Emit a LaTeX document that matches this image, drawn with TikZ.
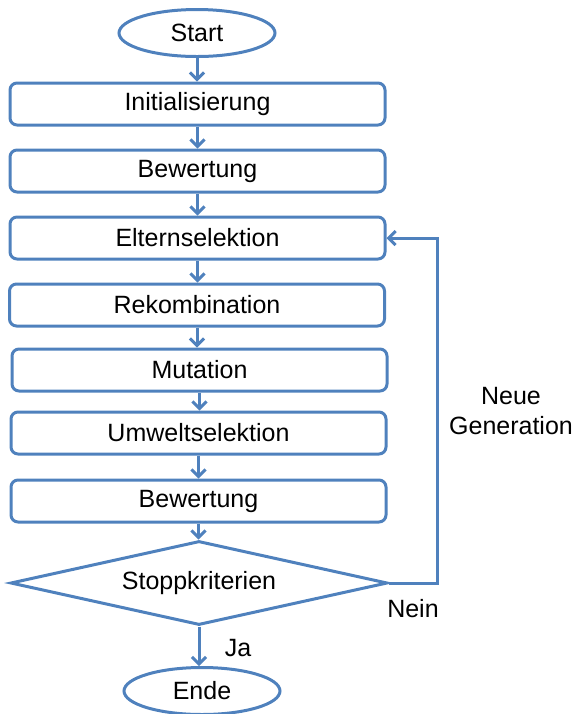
\documentclass[tikz,border=0pt]{standalone}
\usepackage{fontspec}
\setmainfont{Liberation Sans}
\usetikzlibrary{positioning}
\usetikzlibrary{shapes.geometric}
\usetikzlibrary{arrows.meta}
\definecolor{flowblue}{HTML}{4F81BD}

\begin{document}
\begin{tikzpicture}[x=0.5pt, y=-0.5pt,
                    every node/.style={font=\fontsize{12.5}{15}\selectfont},
                    stepbox/.style={draw=flowblue, line width=1.5pt, rounded corners=3.5pt,
                                    minimum width=187.5pt, minimum height=21pt, inner sep=0pt},
                    terminal/.style={draw=flowblue, line width=1.5pt, ellipse,
                                     minimum width=78pt, minimum height=23.5pt, inner sep=0pt},
                    decision/.style={draw=flowblue, line width=1.5pt, diamond, aspect=4.5,
                                     minimum width=188.5pt, minimum height=42pt, inner sep=0pt},
                    flow/.style={draw=flowblue, line width=1.5pt, -{Straight Barb[length=3.5pt,width=7pt]}}]
    \useasboundingbox (0,0) rectangle (575,714);

    \node[terminal] (start) at (197,33) {Start};
    \node[stepbox] (init) at (197.5,104) {Initialisierung};
    \node[stepbox] (bew1) at (197.5,171) {Bewertung};
    \node[stepbox] (eltern) at (197.5,238) {Elternselektion};
    \node[stepbox] (rekomb) at (197,305) {Rekombination};
    \node[stepbox] (mut) at (199.5,370) {Mutation};
    \node[stepbox] (umwelt) at (198.5,433) {Umweltselektion};
    \node[stepbox] (bew2) at (198.5,501) {Bewertung};
    \node[decision] (stopp) at (199,583) {Stoppkriterien};
    \node[terminal] (ende) at (202,691) {Ende};

    % Rueckfuehrung
    \coordinate (ecke) at (437,583);

    \draw[flow] (start.south) -- (start.south |- init.north);
    \draw[flow] (init.south) -- (init.south |- bew1.north);
    \draw[flow] (bew1.south) -- (bew1.south |- eltern.north);
    \draw[flow] (eltern.south) -- (eltern.south |- rekomb.north);
    \draw[flow] (rekomb.south) -- (rekomb.south |- mut.north);
    \draw[flow] (mut.south) -- (mut.south |- umwelt.north);
    \draw[flow] (umwelt.south) -- (umwelt.south |- bew2.north);
    \draw[flow] (bew2.south) -- (bew2.south |- stopp.north);
    \draw[flow] (stopp.south) -- (stopp.south |- ende.north);
    \draw[flow] (stopp.east) -- (ecke) |- (eltern.east);

    \node (nein) at (413,609) {Nein};
    \node (ja) at (238,648) {Ja};
    \node[align=center] (neuegen) at (511,411) {Neue\\Generation};
\end{tikzpicture}
\end{document}
